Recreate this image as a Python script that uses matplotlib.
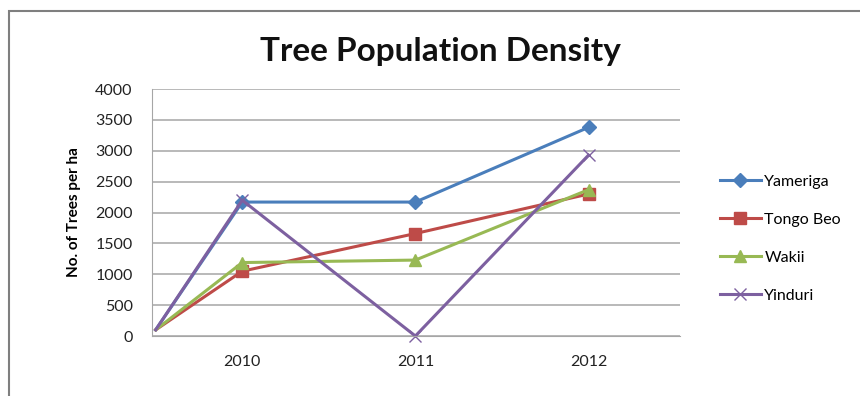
import matplotlib
matplotlib.use("Agg")
import matplotlib.pyplot as plt
from matplotlib.patches import Rectangle

plt.rcParams['font.family'] = ['Lato', 'DejaVu Sans']

# data (first point is the unlabelled start value)
x_vals = [2009.5, 2010, 2011, 2012]
year_ticks = [2010, 2011, 2012]
yameriga = [100, 2170, 2170, 3380]
tongo_beo = [100, 1050, 1660, 2300]
wakii = [100, 1190, 1230, 2370]
yinduri = [100, 2200, 0, 2930]

series = [
    ("Yameriga", yameriga, "#4A7EBB", "D", 7),
    ("Tongo Beo", tongo_beo, "#BE4B48", "s", 8),
    ("Wakii", wakii, "#98B954", "^", 9),
    ("Yinduri", yinduri, "#7D60A0", "x", 9),
]

fig = plt.figure(figsize=(8.6, 3.96), dpi=100)
ax = fig.add_axes([0.177, 0.1515, 0.614, 0.6235])

for name, vals, col, mk, ms in series:
    ax.plot(x_vals, vals, color=col, lw=2.2, marker=mk, markersize=ms,
            markeredgecolor=col, markerfacecolor=col, label=name,
            markevery=[1, 2, 3], clip_on=False)

ax.set_xlim(2009.48, 2012.53)
ax.set_ylim(0, 4000)
ax.set_yticks(range(0, 4001, 500))
ax.set_xticks(year_ticks)
ax.set_xticklabels([str(y) for y in year_ticks])
ax.tick_params(axis='both', length=0, labelsize=11.5, colors='#222222')
ax.tick_params(axis='x', pad=14)
ax.tick_params(axis='y', pad=14)
ax.grid(axis='y', color='#A6A6A6', lw=1.1)
ax.set_axisbelow(True)
for s in ['top', 'right']:
    ax.spines[s].set_visible(False)
ax.spines['left'].set_color('#A6A6A6')
ax.spines['bottom'].set_color('#A6A6A6')

ax.set_ylabel("No. of Trees per ha", fontsize=11, fontweight='bold', labelpad=10)

fig.text(0.512, 0.87, "Tree Population Density", ha='center', va='center',
         fontsize=24, fontweight='bold', color='#111111')

leg = fig.legend(loc='center left', bbox_to_anchor=(0.82, 0.397), frameon=False,
                 fontsize=11.5, labelspacing=1.5, handlelength=2.6, handletextpad=0.2)
for h in leg.legend_handles:
    h.set_markevery([1])

# outer chart frame (cropped screenshot shows only the top and left edges)
fig.add_artist(Rectangle((9 / 860, -0.2), 1.2, (396 - 11) / 396 + 0.2,
                         transform=fig.transFigure, fill=False,
                         edgecolor='#7F7F7F', lw=1.5))

fig.savefig("out.png", dpi=100)
